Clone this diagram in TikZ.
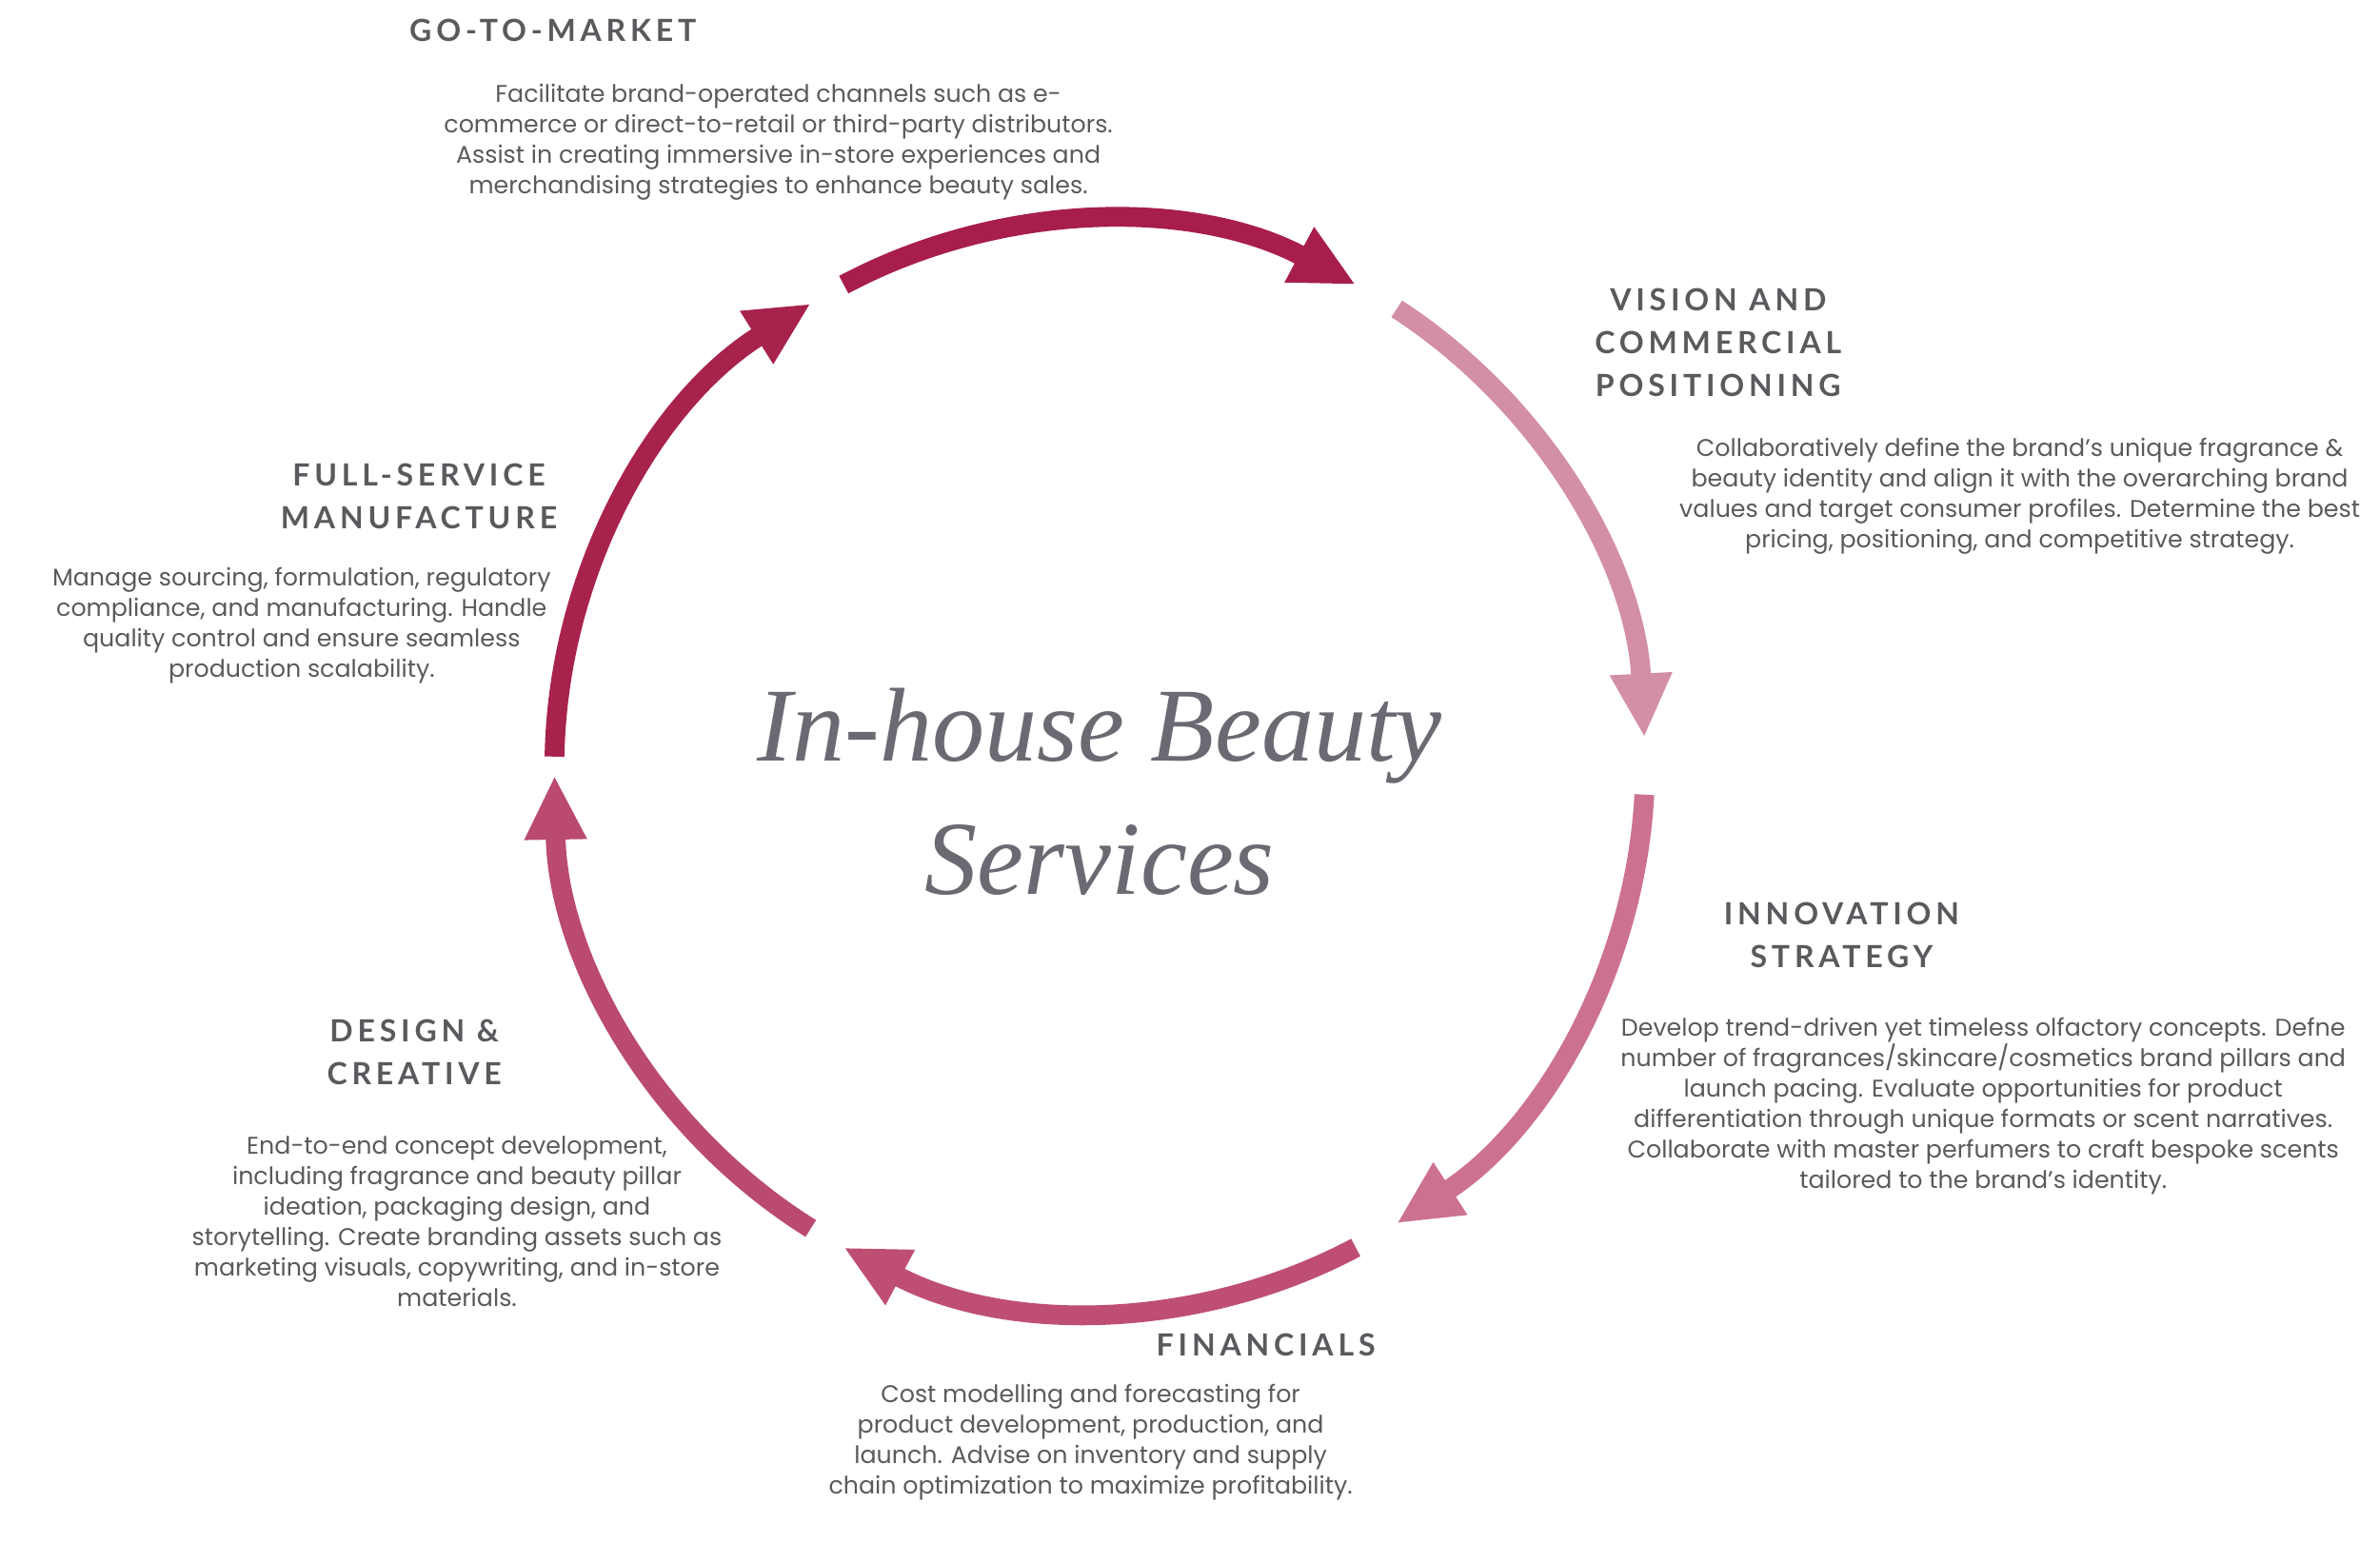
\documentclass[tikz,border=0pt]{standalone}
\usepackage{fontspec}
\setmainfont{Poppins}
\newfontfamily\headfont[LetterSpace=15]{Lato Bold}
\newfontfamily\titlefont{Liberation Serif}
\usetikzlibrary{arrows.meta}
\definecolor{txt}{HTML}{5A5A5E}
\definecolor{aA}{HTML}{A81E4A}
\definecolor{aB}{HTML}{D38FA5}
\definecolor{aC}{HTML}{CC728F}
\definecolor{aD}{HTML}{BF4F72}
\definecolor{aE}{HTML}{BA4A6E}
\definecolor{aF}{HTML}{A8234C}
\definecolor{ttl}{HTML}{6A6A72}
\begin{document}
\begin{tikzpicture}[x=0.05cm,y=-0.05cm,
  body/.style={align=center,text=txt,font=\fontsize{22.5pt}{28.45pt}\selectfont},
  head/.style={align=center,text=txt,font=\headfont\fontsize{28.5pt}{39.8pt}\selectfont},
  ring/.style={line width=0.65cm,-{Triangle[length=2.1cm,width=1.9cm]}}]
\useasboundingbox (0,0) rectangle (1562.5,1013.1);
\coordinate (c) at (722,503);
\draw[ring,aA] (c) ++(-118:358) arc (-118:-62:358);
\draw[ring,aB] (c) ++(-57:358) arc (-57:-3:358);
\draw[ring,aC] (c) ++(3:358) arc (3:57:358);
\draw[ring,aD] (c) ++(62:358) arc (62:118:358);
\draw[ring,aE] (c) ++(122:358) arc (122:179:358);
\draw[ring,aF] (c) ++(181:358) arc (181:238:358);
\node[text=ttl,font=\titlefont\itshape\fontsize{98pt}{125pt}\selectfont,align=center] (title) at (722,520) {In-house Beauty\\Services};
\node[head] (h1) at (363,20) {GO-TO-MARKET};
\node[body] (b1) at (511,93) {Facilitate brand-operated channels such as e-\\commerce or direct-to-retail or third-party distributors.\\Assist in creating immersive in-store experiences and\\merchandising strategies to enhance beauty sales.};
\node[head] (h2) at (1128,225) {VISION AND\\COMMERCIAL\\POSITIONING};
\node[body] (b2) at (1326,326) {Collaboratively define the brand's unique fragrance \&\\beauty identity and align it with the overarching brand\\values and target consumer profiles. Determine the best\\pricing, positioning, and competitive strategy.};
\node[head] (h3) at (1209,614) {INNOVATION\\STRATEGY};
\node[body] (b3) at (1302,726) {Develop trend-driven yet timeless olfactory concepts. Defne\\number of fragrances/skincare/cosmetics brand pillars and\\launch pacing. Evaluate opportunities for product\\differentiation through unique formats or scent narratives.\\Collaborate with master perfumers to craft bespoke scents\\tailored to the brand's identity.};
\node[head] (h4) at (831,883) {FINANCIALS};
\node[body] (b4) at (716,947) {Cost modelling and forecasting for\\product development, production, and\\launch. Advise on inventory and supply\\chain optimization to maximize profitability.};
\node[head] (h5) at (272,691) {DESIGN \&\\CREATIVE};
\node[body] (b5) at (300,802) {End-to-end concept development,\\including fragrance and beauty pillar\\ideation, packaging design, and\\storytelling. Create branding assets such as\\marketing visuals, copywriting, and in-store\\materials.};
\node[head] (h6) at (275,326) {FULL-SERVICE\\MANUFACTURE};
\node[body] (b6) at (198,411) {Manage sourcing, formulation, regulatory\\compliance, and manufacturing. Handle\\quality control and ensure seamless\\production scalability.};
\end{tikzpicture}
\end{document}
